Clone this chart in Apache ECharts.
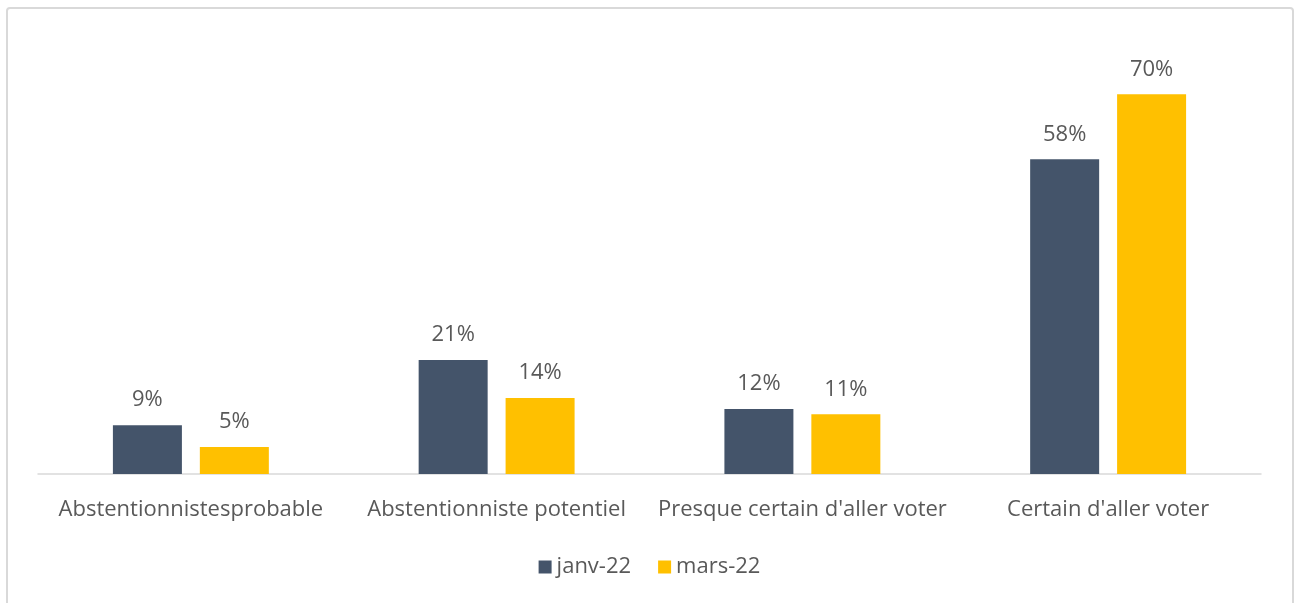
<!DOCTYPE html>
<html>
<head>
<meta charset="utf-8">
<script src="https://cdn.jsdelivr.net/npm/echarts@6/dist/echarts.min.js"></script>
<style>html,body{margin:0;padding:0;background:#fff;}#c{width:1299px;height:603px;}</style>
</head>
<body>
<div id="c"></div>
<script>
const categories = ["Abstentionnistesprobable", "Abstentionniste potentiel", "Presque certain d'aller voter", "Certain d'aller voter"];
const seriesNames = ["janv-22", "mars-22"];
const janv22 = [9, 21, 12, 58];
const mars22 = [5, 14, 11, 70];

const chart = echarts.init(document.getElementById('c'));
const font = "'Open Sans', 'Liberation Sans', sans-serif";
const label = {show: true, position: 'top', distance: 14, formatter: p => p.value + '%', color: '#595959', fontSize: 22, fontFamily: font};
chart.setOption({
  animation: false,
  graphic: [{type: 'rect', shape: {x: 7, y: 8, width: 1286, height: 620, r: 3}, style: {fill: 'none', stroke: '#d9d9d9', lineWidth: 2}, silent: true}],
  grid: {left: 38, right: 38, top: 40, bottom: 129},
  legend: {bottom: 20, left: 'center', itemWidth: 13, itemHeight: 13, itemGap: 27, icon: 'rect',
    textStyle: {color: '#595959', fontSize: 22, fontFamily: font}, data: seriesNames},
  xAxis: {type: 'category', data: categories,
    axisLine: {lineStyle: {color: '#d9d9d9', width: 1.5}}, axisTick: {show: false},
    axisLabel: {color: '#595959', fontSize: 22, fontFamily: font, margin: 25, interval: 0}},
  yAxis: {type: 'value', min: 0, max: 80, show: false, splitLine: {show: false}},
  series: [
    {name: seriesNames[0], type: 'bar', data: janv22, barWidth: 69, barGap: '26%', itemStyle: {color: '#44546A'}, label},
    {name: seriesNames[1], type: 'bar', data: mars22, barWidth: 69, barGap: '26%', itemStyle: {color: '#FFC000'}, label}
  ]
});
</script>
</body>
</html>
